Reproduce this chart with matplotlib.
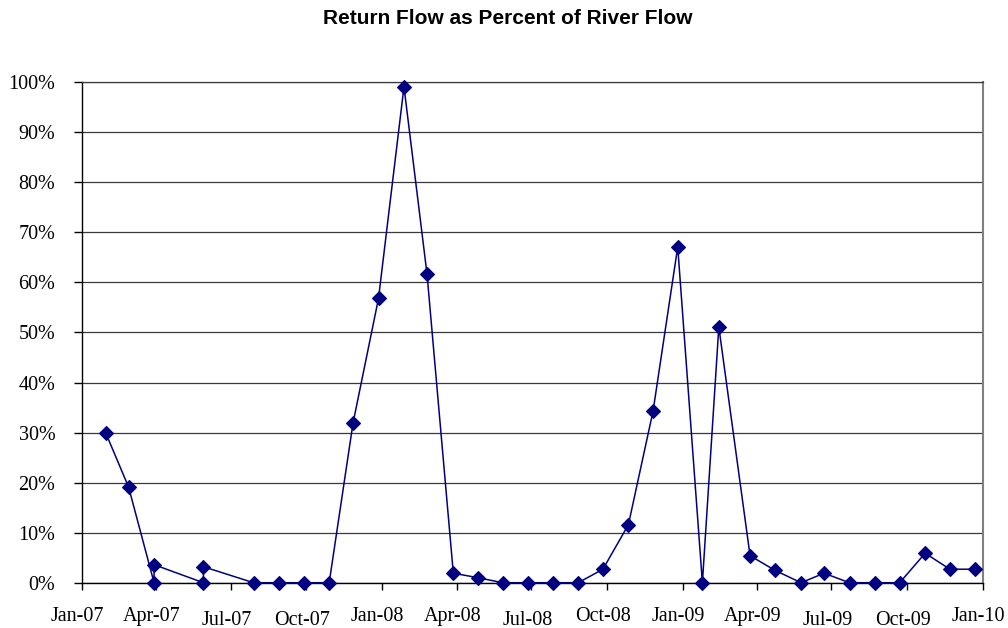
import numpy as np
import pandas as pd
import matplotlib
matplotlib.use('Agg')
import matplotlib.pyplot as plt
import matplotlib.dates as mdates
from matplotlib.ticker import PercentFormatter, MultipleLocator
from matplotlib.transforms import ScaledTranslation

# Sample dates and return flow as % of river flow
dates = ['2007-01-30', '2007-02-27', '2007-03-30', '2007-03-30', '2007-05-29',
         '2007-05-29', '2007-07-29', '2007-08-29', '2007-09-28', '2007-10-29',
         '2007-11-27', '2007-12-28', '2008-01-28', '2008-02-25', '2008-03-28',
         '2008-04-27', '2008-05-27', '2008-06-27', '2008-07-27', '2008-08-27',
         '2008-09-26', '2008-10-27', '2008-11-26', '2008-12-26', '2009-01-25',
         '2009-02-14', '2009-03-24', '2009-04-23', '2009-05-25', '2009-06-22',
         '2009-07-23', '2009-08-23', '2009-09-22', '2009-10-23', '2009-11-22',
         '2009-12-23']
pct = [30.0, 19.1, 0.0, 3.6, 0.0, 3.2, 0.0, 0.0, 0.0, 0.0,
       31.9, 56.8, 99.1, 61.7, 1.9, 1.0, 0.0, 0.0, 0.0, 0.0,
       2.7, 11.6, 34.3, 67.1, 0.0, 51.1, 5.4, 2.5, 0.0, 1.9,
       0.0, 0.0, 0.0, 5.9, 2.7, 2.7]

title = 'Return Flow as Percent of River Flow'
x = pd.to_datetime(dates)

plt.rcParams['font.family'] = ['Liberation Serif', 'DejaVu Serif']

fig = plt.figure(figsize=(10.08, 6.28), dpi=100)
ax = fig.add_axes([0.0811, 0.0721, 0.8938, 0.7969])

ax.plot(x, pct, color='#000080', lw=1.1, marker='D', ms=7.2,
        mfc='#000080', mec='#000080', mew=0.8, zorder=3, clip_on=False)

ax.set_xlim(pd.Timestamp('2007-01-01'), pd.Timestamp('2010-01-01'))
ax.set_ylim(0, 100)
ax.yaxis.set_major_locator(MultipleLocator(10))
ax.yaxis.set_major_formatter(PercentFormatter(100, decimals=0))
ax.xaxis.set_major_locator(mdates.MonthLocator(bymonth=[1, 4, 7, 10]))
ax.xaxis.set_major_formatter(mdates.DateFormatter('%b-%y'))

ax.grid(axis='y', color='#3a3a3a', lw=0.9, zorder=1)
ax.set_axisbelow(True)
for s in ['left', 'bottom']:
    ax.spines[s].set_color('black')
    ax.spines[s].set_linewidth(1.0)
ax.spines['top'].set_color('#3a3a3a')
ax.spines['top'].set_linewidth(0.9)
ax.spines['right'].set_color('#808080')
ax.spines['right'].set_linewidth(1.5)

ax.tick_params(axis='y', direction='out', length=6, width=1, pad=13, labelsize=14.5)
ax.tick_params(axis='x', direction='out', length=5, width=1, pad=12.5, labelsize=14.5)

# Excel staggers some of the date labels a little
stagger = [0, 0, 4, 4, 0, 0, 4, 0, 0, 0, 4, 4, 0]
fig.canvas.draw()
for lab, dy in zip(ax.get_xticklabels(), stagger):
    lab.set_transform(lab.get_transform() +
                      ScaledTranslation(-4 / 100, -dy / 100, fig.dpi_scale_trans))

fig.text(0.5035, 1 - 18 / 628, title, ha='center', va='center',
         fontsize=15, fontweight='bold', family=['Liberation Sans', 'DejaVu Sans'])

fig.savefig('out.png', dpi=100, facecolor='white')
